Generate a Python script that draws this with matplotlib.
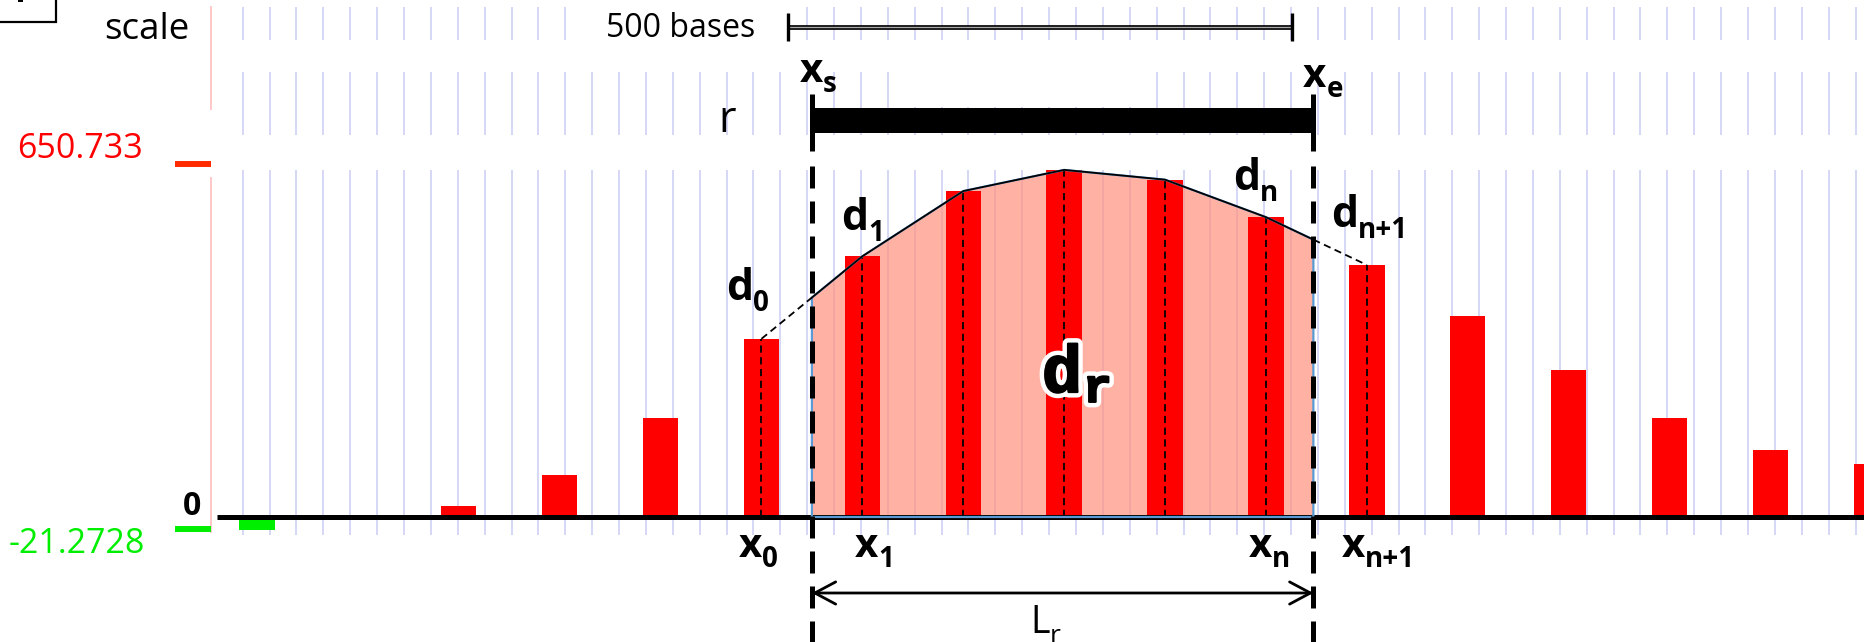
import numpy as np
import matplotlib
matplotlib.use('Agg')
import matplotlib.pyplot as plt
import matplotlib.transforms as mtransforms
import matplotlib.patheffects as pe
from matplotlib.patches import Rectangle

# ---------------- data ----------------
bin_centers = [50, 150, 250, 350, 450, 550, 650, 750, 850, 950,
               1050, 1150, 1250, 1350, 1450, 1550, 1650]          # bases
values = [-24, -6, 20, 77, 182, 328, 480, 600, 639, 621,
          552, 464, 370, 271, 182, 124, 98]                         # signal
bar_width = 35                     # bases
view_max = 650.733
view_min = -21.2728
view_max_label = "650.733"
view_min_label = "-21.2728"
region_start = 600                 # x_s
region_end = 1097                  # x_e
r_bar_end = 1100
scale_start = 576
scale_length = 500
scale_label = "500 bases"
idx_d0, idx_d1, idx_dn, idx_dn1 = 5, 6, 10, 11
grid_start = 35.9
grid_step = 26.64
n_grid = 61

# ---------------- figure / scales ----------------
W, H = 1864, 642
fig = plt.figure(figsize=(W / 100, H / 100), dpi=100)
ax = fig.add_axes([0, 0, 1, 1])
ax.set_axis_off()
ax.set_autoscale_on(False)
px_per_base = 1.009
x_origin_px = 206.5
px_per_unit = 0.5432
baseline_px = 517
ax.set_xlim(-x_origin_px / px_per_base, (W - x_origin_px) / px_per_base)
ax.set_ylim(-(H - baseline_px) / px_per_unit, baseline_px / px_per_unit)

PX = mtransforms.Affine2D().scale(1.0 / W, -1.0 / H).translate(0, 1) + fig.transFigure
XD_YP = mtransforms.blended_transform_factory(ax.transData, PX)
XP_YD = mtransforms.blended_transform_factory(PX, ax.transData)

SANS = 'Open Sans'
GRID_C = '#D6D6F6'

# top-left panel box (cut off)
ax.add_patch(Rectangle((-5, -5), 61, 27, transform=PX, fc='white', ec='black', lw=1.6, zorder=2))
ax.add_patch(Rectangle((18, -2), 5, 4, transform=PX, fc='black', ec='none', zorder=2.1))

# grid lines in three rows
gx = grid_start + grid_step * np.arange(n_grid)
for y0, y1 in [(7, 40), (72, 135), (170, 535)]:
    ax.vlines(gx, y0, y1, colors=GRID_C, lw=1.4, transform=XD_YP, zorder=1)
ax.add_patch(Rectangle((580, 4), 215, 38, transform=PX, fc='white', ec='none', zorder=1.5))
ax.add_patch(Rectangle((913, 68), 236, 39, transform=PX, fc='white', ec='none', zorder=1.5))

# value axis line & ticks
ax.vlines([211, 211], [6, 177], [110, 533], transform=PX, colors='#FFC4C4', lw=1.3, zorder=1.6)
ax.hlines([view_max], 175, 211, transform=XP_YD, colors='#FF2A00', lw=4.3, zorder=2)
ax.hlines([view_min], 175, 211, transform=XP_YD, colors='#00EE00', lw=4.3, zorder=2)
ax.text(143, 158, view_max_label, transform=PX, ha='right', va='baseline',
        fontsize=24.5, color='#FF0000', family=SANS)
ax.text(145, 553, view_min_label, transform=PX, ha='right', va='baseline',
        fontsize=24.5, color='#00EE00', family=SANS)
ax.text(192.5, 515, "0", transform=PX, ha='center', va='baseline',
        fontsize=23, fontweight='bold', color='black', family=SANS)

# region r: interpolated coverage curve
xs_val = np.interp(region_start, bin_centers, values)
xe_val = np.interp(region_end, bin_centers, values)
inside = [(c, v) for c, v in zip(bin_centers, values) if region_start < c < region_end]
curve_x = [region_start] + [c for c, _ in inside] + [region_end]
curve_y = [xs_val] + [v for _, v in inside] + [xe_val]
poly_x = [region_start] + curve_x + [region_end]
poly_y = [0] + curve_y + [0]

ax.fill(poly_x, poly_y, color=(1.0, 145 / 255, 125 / 255), alpha=0.7, lw=0, zorder=2)

# bars
colors = ['#00EE00' if v < 0 else '#FF0000' for v in values]
ax.bar(bin_centers, values, width=bar_width, color=colors, linewidth=0, zorder=3)

# baseline
ax.hlines([0], 217, W, transform=XP_YD, colors='black', lw=3.6, zorder=4)

# dashed center lines of the used bins
sel = list(range(idx_d0, idx_dn1 + 1))
ax.vlines([bin_centers[i] for i in sel], 0, [values[i] for i in sel],
          colors='black', lw=1.3, linestyles=(0, (4, 2.5)), zorder=5)

# polygon edge and interpolation line
ax.plot(poly_x + [poly_x[0]], poly_y + [poly_y[0]], color='#5B9BD5', lw=1.6, zorder=5.5)
ax.plot(curve_x, curve_y, color='black', lw=1.3, zorder=6)
ax.plot([bin_centers[idx_d0], region_start], [values[idx_d0], xs_val],
        color='black', lw=1.3, ls=(0, (4, 2.5)), zorder=6)
ax.plot([region_end, bin_centers[idx_dn1]], [xe_val, values[idx_dn1]],
        color='black', lw=1.3, ls=(0, (4, 2.5)), zorder=6)

# x_s / x_e boundary lines
ax.vlines([region_start, region_end], 94, 151, transform=XD_YP, colors='black', lw=3.6, zorder=7)
ax.vlines([region_start, region_end], 166, H, transform=XD_YP, colors='black', lw=3.6,
          linestyles=(0, (4.4, 2.6)), zorder=7)

# r bar
ax.add_patch(Rectangle((region_start, 108), r_bar_end - region_start, 25, transform=XD_YP,
                       fc='black', ec='none', zorder=7))
ax.text(727, 132, "r", transform=PX, ha='center', va='baseline', fontsize=31, family=SANS)

# scale bar
ax.hlines([27], scale_start, scale_start + scale_length, transform=XD_YP, colors='black', lw=3.4, zorder=3)
ax.hlines([27], scale_start, scale_start + scale_length, transform=XD_YP, colors='#AAAAAA', lw=1.0, zorder=3.1)
ax.vlines([scale_start, scale_start + scale_length], 13, 41, transform=XD_YP, colors='black', lw=2.4, zorder=3.2)
ax.text(104, 39, "scale", transform=PX, ha='left', va='baseline', fontsize=26.5, family=SANS)
ax.text(755, 37, scale_label, transform=PX, ha='right', va='baseline', fontsize=23, family=SANS)

# L_r arrow
ax.annotate('', xy=(region_start, 593), xytext=(region_end, 593), xycoords=XD_YP, textcoords=XD_YP,
            arrowprops=dict(arrowstyle='<->,head_length=1.5,head_width=0.8', lw=2.0, color='black',
                            shrinkA=0, shrinkB=0), zorder=7)


def sublabel(x, y, main, sub, size=29, subsize=20, weight='bold', family=SANS,
             dx=0.0, dy=-1.0, effects=None):
    t = ax.text(x, y, main, transform=PX, ha='left', va='baseline', fontsize=size,
                fontweight=weight, family=family, zorder=9, path_effects=effects)
    ax.annotate(sub, xy=(1.0, 0.0), xycoords=t, xytext=(dx, dy), textcoords='offset points',
                ha='left', va='baseline', fontsize=subsize, fontweight=weight, family=family,
                zorder=9, path_effects=effects)


sublabel(800, 82, "x", "s")
sublabel(1303, 87, "x", "e")
sublabel(726, 300, "d", "0", size=31)
sublabel(841, 230, "d", "1", size=31)
sublabel(1233, 190, "d", "n", size=31)
sublabel(1331, 227, "d", "n+1", size=31)
sublabel(739, 557, "x", "0")
sublabel(855, 557, "x", "1")
sublabel(1249, 557, "x", "n")
sublabel(1342, 557, "x", "n+1")
sublabel(1030, 633, "L", "r", size=27, subsize=19, weight='normal')
glow = [pe.withStroke(linewidth=8, foreground='white'),
        pe.withStroke(linewidth=1.6, foreground='black')]
sublabel(1042, 392, "d", "r", size=48, subsize=34, family='Liberation Mono',
         dx=1, dy=3, effects=glow)

fig.savefig('out.png', dpi=100)
